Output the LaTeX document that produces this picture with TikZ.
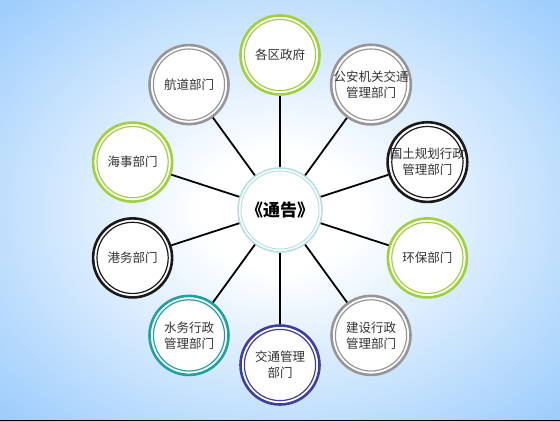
\documentclass[tikz,border=0pt]{standalone}
\usepackage{fontspec}
\setmainfont{Noto Sans CJK SC}
\definecolor{bgblue}{RGB}{153,203,252}
\definecolor{ringgreen}{RGB}{160,208,60}
\definecolor{ringgray}{RGB}{150,150,150}
\definecolor{ringblack}{RGB}{25,25,25}
\definecolor{ringteal}{RGB}{32,160,162}
\definecolor{ringblue}{RGB}{62,62,160}
\definecolor{hubcyan}{RGB}{182,222,228}
\definecolor{txtgray}{RGB}{50,50,50}
\definecolor{baseline}{RGB}{30,40,70}
\pgfdeclareradialshading{bgglow}{\pgfpoint{0bp}{0bp}}{color(0bp)=(white); color(7bp)=(white); color(36bp)=(bgblue); color(50bp)=(bgblue)}

\begin{document}
\begin{tikzpicture}[x=1pt,y=1pt]
    \tikzset{dept/.style = {circle, draw=#1, fill=white, line width=2.6pt,
        minimum size=79pt, inner sep=0pt, align=center, text=txtgray,
        font=\fontsize{12.5}{16}\selectfont,
        path picture={\draw[#1, line width=1.2pt]
            (path picture bounding box.center) circle (35.6pt);}}}
    \tikzset{hub/.style = {circle, draw=hubcyan, fill=white, line width=1.6pt,
        minimum size=84pt, inner sep=0pt, font=\fontsize{17}{20}\selectfont\bfseries,
        path picture={\draw[hubcyan, line width=1pt]
            (path picture bounding box.center) circle (39pt);}}}

    \shade[shading=bgglow] (0,0) rectangle (560,421);
    \useasboundingbox (0,0) rectangle (560,421);
    \draw[baseline, line width=1.5pt] (0,0.75) -- (560,0.75);

    \node[hub] (T) at (280,211) {《通告》};
    \node[dept=ringgreen] (A) at (280,366)   {各区政府};
    \node[dept=ringgray]  (B) at (371,336.4) {公安机关交通\\管理部门};
    \node[dept=ringblack] (C) at (427.4,258.9) {国土规划行政\\管理部门};
    \node[dept=ringgreen] (D) at (427.4,163.1) {环保部门};
    \node[dept=ringgray]  (E) at (371,85.6)  {建设行政\\管理部门};
    \node[dept=ringblue]  (F) at (280,56)    {交通管理\\部门};
    \node[dept=ringteal]  (G) at (189,85.6)  {水务行政\\管理部门};
    \node[dept=ringblack] (H) at (132.6,163.1) {港务部门};
    \node[dept=ringgreen] (I) at (132.6,258.9) {海事部门};
    \node[dept=ringgray]  (J) at (189,336.4) {航道部门};

    \tikzset{EdgeStyle/.style = {line width=1.8pt, color=black}}
    \draw[EdgeStyle] (T) -- (A);
    \draw[EdgeStyle] (T) -- (B);
    \draw[EdgeStyle] (T) -- (C);
    \draw[EdgeStyle] (T) -- (D);
    \draw[EdgeStyle] (T) -- (E);
    \draw[EdgeStyle] (T) -- (F);
    \draw[EdgeStyle] (T) -- (G);
    \draw[EdgeStyle] (T) -- (H);
    \draw[EdgeStyle] (T) -- (I);
    \draw[EdgeStyle] (T) -- (J);
\end{tikzpicture}
\end{document}
